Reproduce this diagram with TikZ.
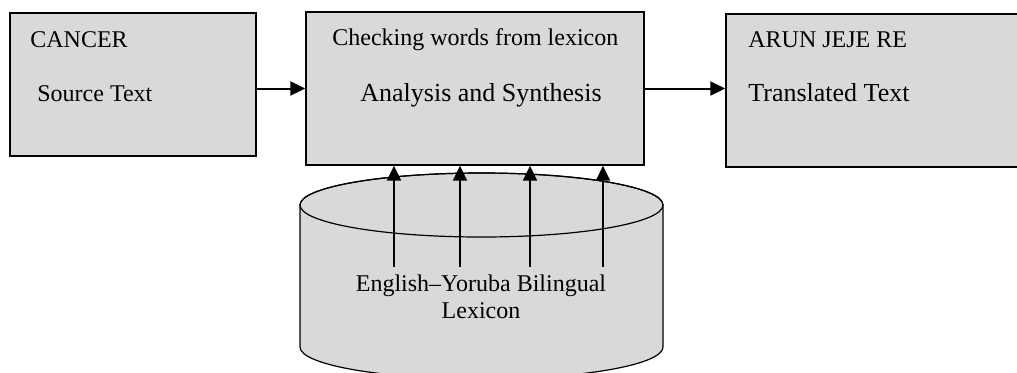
\documentclass[tikz,border=0pt]{standalone}
\usepackage{fontspec}
\setmainfont{Liberation Serif}
\usetikzlibrary{arrows.meta}
\definecolor{boxGray}{HTML}{D9D9D9}

\begin{document}
\begin{tikzpicture}[x=0.5pt,y=-0.5pt]

          \tikzstyle{stageBox} = [draw, line width=0.7pt, fill=boxGray, inner sep=0pt];
          \tikzstyle{label} = [inner sep=0pt, font=\fontsize{12}{14}\selectfont];
          \tikzstyle{bigLabel} = [inner sep=0pt, font=\fontsize{13}{15}\selectfont];
          \tikzstyle{flowEdge} = [line width=1pt, -{Triangle[length=7.5pt,width=7pt]}];

          \useasboundingbox (0,0) rectangle (1017,372);

          % lexicon drum
          \draw[line width=0.6pt, fill=boxGray] (300,205) -- (300,347)
            arc[x radius=181.5, y radius=32, start angle=180, end angle=0]
            -- (663,205)
            arc[x radius=181.5, y radius=32, start angle=360, end angle=180] -- cycle;
          \draw[line width=0.6pt] (481.5,205) ellipse[x radius=181.5, y radius=32];

          \node[stageBox, minimum width=123pt, minimum height=71.5pt] (src) at (133,84.5) {};
          \node[stageBox, minimum width=169pt, minimum height=76.5pt] (ana) at (475,88.5) {};
          \node[stageBox, minimum width=147pt, minimum height=76.5pt] (tgt) at (873,90.5) {};

          \node[label, anchor=base west] (cancer) at (30,47) {CANCER};
          \node[label, anchor=base west] (srcText) at (37,101) {Source Text};
          \node[label, anchor=base west] (check) at (332,45) {Checking words from lexicon};
          \node[bigLabel, anchor=base west] (anaText) at (360,101) {Analysis and Synthesis};
          \node[label, anchor=base west] (arun) at (748,47) {ARUN JEJE RE};
          \node[bigLabel, anchor=base west] (tgtText) at (748,101) {Translated Text};
          \node[label, anchor=base] (lexA) at (481,291) {English--Yoruba Bilingual};
          \node[label, anchor=base] (lexB) at (481,318) {Lexicon};

          \coordinate (l1) at (394,267);
          \coordinate (l2) at (460,267);
          \coordinate (l3) at (530,267);
          \coordinate (l4) at (603,267);

          \draw[flowEdge] (src.east |- ana.west) -- (ana.west);
          \draw[flowEdge] (ana.east) -- (tgt.west |- ana.east);
          \draw[flowEdge] (l1) -- (l1 |- ana.south);
          \draw[flowEdge] (l2) -- (l2 |- ana.south);
          \draw[flowEdge] (l3) -- (l3 |- ana.south);
          \draw[flowEdge] (l4) -- (l4 |- ana.south);
        \end{tikzpicture}
\end{document}
